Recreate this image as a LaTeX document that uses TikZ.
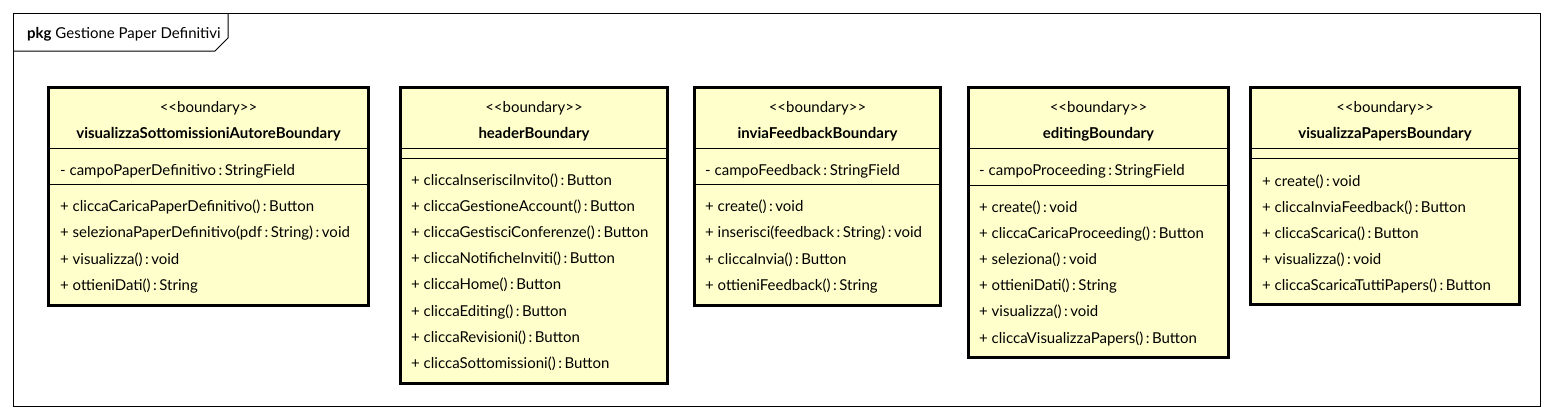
\documentclass[tikz,border=0pt]{standalone}
\usepackage{fontspec}
\setmainfont{Lato}
\usepackage{tikz}
\usetikzlibrary{positioning}
\definecolor{boundfill}{RGB}{255,255,204}

\begin{document}
\begin{tikzpicture}[x=1pt, y=-1pt]
  \tikzstyle{frame}=[draw, line width=1pt]
  \tikzstyle{cls}=[draw, line width=3pt, fill=boundfill, anchor=north west, inner sep=0]
  \tikzstyle{sep}=[line width=1pt]
  \tikzstyle{member}=[anchor=west, inner sep=0, text height=11pt, text depth=4pt, yshift=-2pt, font=\fontsize{15}{17}\selectfont]
  \tikzstyle{stereo}=[member, anchor=center]
  \tikzstyle{clsname}=[stereo, font=\fontsize{15}{17}\selectfont\bfseries]

  \useasboundingbox (0,0) rectangle (1553,418);

  % package frame
  \draw [frame] (13,13) rectangle (1540,406);
  \draw [frame] (13,51) -- (215,51) -- (228,38) -- (228,13);
  \node [member] (pkg) at (27,33) {\textbf{pkg} Gestione Paper Definitivi};

  % classes
  \node [cls, minimum width=320pt, minimum height=218pt] (C-A) at (47,86) {};
  \node [cls, minimum width=267pt, minimum height=296pt] (C-B) at (399,86) {};
  \node [cls, minimum width=246pt, minimum height=218pt] (C-C) at (693,86) {};
  \node [cls, minimum width=260pt, minimum height=270pt] (C-D) at (967,86) {};
  \node [cls, minimum width=269pt, minimum height=217pt] (C-E) at (1249,86) {};

  % compartments
  \draw [sep] (C-A.west |- 0,148) -- (C-A.east |- 0,148);
  \draw [sep] (C-A.west |- 0,184) -- (C-A.east |- 0,184);
  \draw [sep] (C-B.west |- 0,148) -- (C-B.east |- 0,148);
  \draw [sep] (C-B.west |- 0,158) -- (C-B.east |- 0,158);
  \draw [sep] (C-C.west |- 0,148) -- (C-C.east |- 0,148);
  \draw [sep] (C-C.west |- 0,184) -- (C-C.east |- 0,184);
  \draw [sep] (C-D.west |- 0,148) -- (C-D.east |- 0,148);
  \draw [sep] (C-D.west |- 0,185) -- (C-D.east |- 0,185);
  \draw [sep] (C-E.west |- 0,148) -- (C-E.east |- 0,148);
  \draw [sep] (C-E.west |- 0,158) -- (C-E.east |- 0,158);

  % visualizzaSottomissioniAutoreBoundary
  \node [stereo] (A-st) at (C-A.north |- 0,107) {<{}<boundary>{}>};
  \node [clsname] (A-nm) at (C-A.north |- 0,133) {visualizzaSottomissioniAutoreBoundary};
  \node [member] (A-at) at (60,170) {- campoPaperDefinitivo\,:\,StringField};
  \node [member] (A-1) at (60,206) {+ cliccaCaricaPaperDefinitivo()\,:\,Button};
  \node [member] (A-2) at (60,232) {+ selezionaPaperDefinitivo(pdf\,:\,String)\,:\,void};
  \node [member] (A-3) at (60,259) {+ visualizza()\,:\,void};
  \node [member] (A-4) at (60,285) {+ ottieniDati()\,:\,String};

  % headerBoundary
  \node [stereo] (B-st) at (C-B.north |- 0,107) {<{}<boundary>{}>};
  \node [clsname] (B-nm) at (C-B.north |- 0,133) {headerBoundary};
  \node [member] (B-1) at (411,180) {+ cliccaInserisciInvito()\,:\,Button};
  \node [member] (B-2) at (411,206) {+ cliccaGestioneAccount()\,:\,Button};
  \node [member] (B-3) at (411,232) {+ cliccaGestisciConferenze()\,:\,Button};
  \node [member] (B-4) at (411,258) {+ cliccaNotificheInviti()\,:\,Button};
  \node [member] (B-5) at (411,284) {+ cliccaHome()\,:\,Button};
  \node [member] (B-6) at (411,311) {+ cliccaEditing()\,:\,Button};
  \node [member] (B-7) at (411,337) {+ cliccaRevisioni()\,:\,Button};
  \node [member] (B-8) at (411,363) {+ cliccaSottomissioni()\,:\,Button};

  % inviaFeedbackBoundary
  \node [stereo] (C-st) at (C-C.north |- 0,107) {<{}<boundary>{}>};
  \node [clsname] (C-nm) at (C-C.north |- 0,133) {inviaFeedbackBoundary};
  \node [member] (C-at) at (705,170) {- campoFeedback\,:\,StringField};
  \node [member] (C-1) at (705,206) {+ create()\,:\,void};
  \node [member] (C-2) at (705,232) {+ inserisci(feedback\,:\,String)\,:\,void};
  \node [member] (C-3) at (705,259) {+ cliccaInvia()\,:\,Button};
  \node [member] (C-4) at (705,285) {+ ottieniFeedback()\,:\,String};

  % editingBoundary
  \node [stereo] (D-st) at (C-D.north |- 0,107) {<{}<boundary>{}>};
  \node [clsname] (D-nm) at (C-D.north |- 0,133) {editingBoundary};
  \node [member] (D-at) at (979,170) {- campoProceeding\,:\,StringField};
  \node [member] (D-1) at (979,207) {+ create()\,:\,void};
  \node [member] (D-2) at (979,233) {+ cliccaCaricaProceeding()\,:\,Button};
  \node [member] (D-3) at (979,259) {+ seleziona()\,:\,void};
  \node [member] (D-4) at (979,285) {+ ottieniDati()\,:\,String};
  \node [member] (D-5) at (979,311) {+ visualizza()\,:\,void};
  \node [member] (D-6) at (979,338) {+ cliccaVisualizzaPapers()\,:\,Button};

  % visualizzaPapersBoundary
  \node [stereo] (E-st) at (C-E.north |- 0,107) {<{}<boundary>{}>};
  \node [clsname] (E-nm) at (C-E.north |- 0,133) {visualizzaPapersBoundary};
  \node [member] (E-1) at (1262,181) {+ create()\,:\,void};
  \node [member] (E-2) at (1262,207) {+ cliccaInviaFeedback()\,:\,Button};
  \node [member] (E-3) at (1262,233) {+ cliccaScarica()\,:\,Button};
  \node [member] (E-4) at (1262,259) {+ visualizza()\,:\,void};
  \node [member] (E-5) at (1262,285) {+ cliccaScaricaTuttiPapers()\,:\,Button};
\end{tikzpicture}
\end{document}
